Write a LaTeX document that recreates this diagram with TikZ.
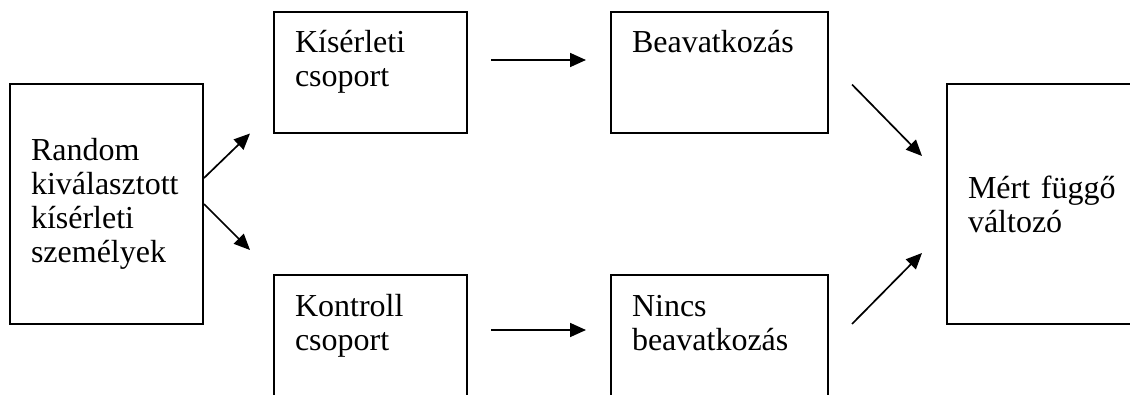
\documentclass[tikz,border=0pt]{standalone}
\usepackage{fontspec}
\setmainfont{Liberation Serif}
\usetikzlibrary{arrows.meta,calc}

\newcommand{\boxtext}[2]{\parbox[c][86pt][t]{#1}{\raggedright\strut #2}}

\begin{document}
\begin{tikzpicture}[x=1pt, y=-1pt, node distance={349pt}, line width=1.7pt,
    >={Triangle[length=16pt,width=14pt]},
    main/.style = {draw, line width=2pt, inner xsep=21pt, inner ysep=17.5pt, font=\fontsize{32}{34}\selectfont},
    tall/.style = {main, text width=151pt, align=left, minimum height=240pt}]
            \useasboundingbox (0,0) rectangle (1130,394);
            \node[tall] (n_1) at (106.5,204) {Random\\kiválasztott\\kísérleti\\személyek};
            \node[main] (n_2) at (370.5,72) {\boxtext{151pt}{Kísérleti\\csoport}};
            \node[main] (n_3) [right of=n_2] {\boxtext{175pt}{Beavatkozás}};
            \node[main] (n_4) [node distance=263.5pt, below of=n_2] {\boxtext{151pt}{Kontroll\\csoport}};
            \node[main] (n_5) [node distance=263.5pt, below of=n_3] {\boxtext{175pt}{Nincs\\beavatkozás}};
            \node[tall] (n_6) at (1043.5,204) {Mért függő\\változó};

            \draw[->] ($(n_1.east)+(0,-26)$) -- ($(n_2.south west)+(-23,0)$);
            \draw[->] (n_1.east) -- ($(n_4.north west)+(-23,-24)$);
            \draw[->] ($(n_2.east)+(23,-12)$) -- ($(n_3.west)+(-24,-12)$);
            \draw[->] ($(n_4.east)+(23,-5.5)$) -- ($(n_5.west)+(-24,-5.5)$);
            \draw[->] ($(n_3.south east)+(23,-49)$) -- ($(n_6.west)+(-24,-48)$);
            \draw[->] ($(n_5.north east)+(23,50)$) -- ($(n_6.west)+(-24,49)$);
        \end{tikzpicture}
\end{document}
